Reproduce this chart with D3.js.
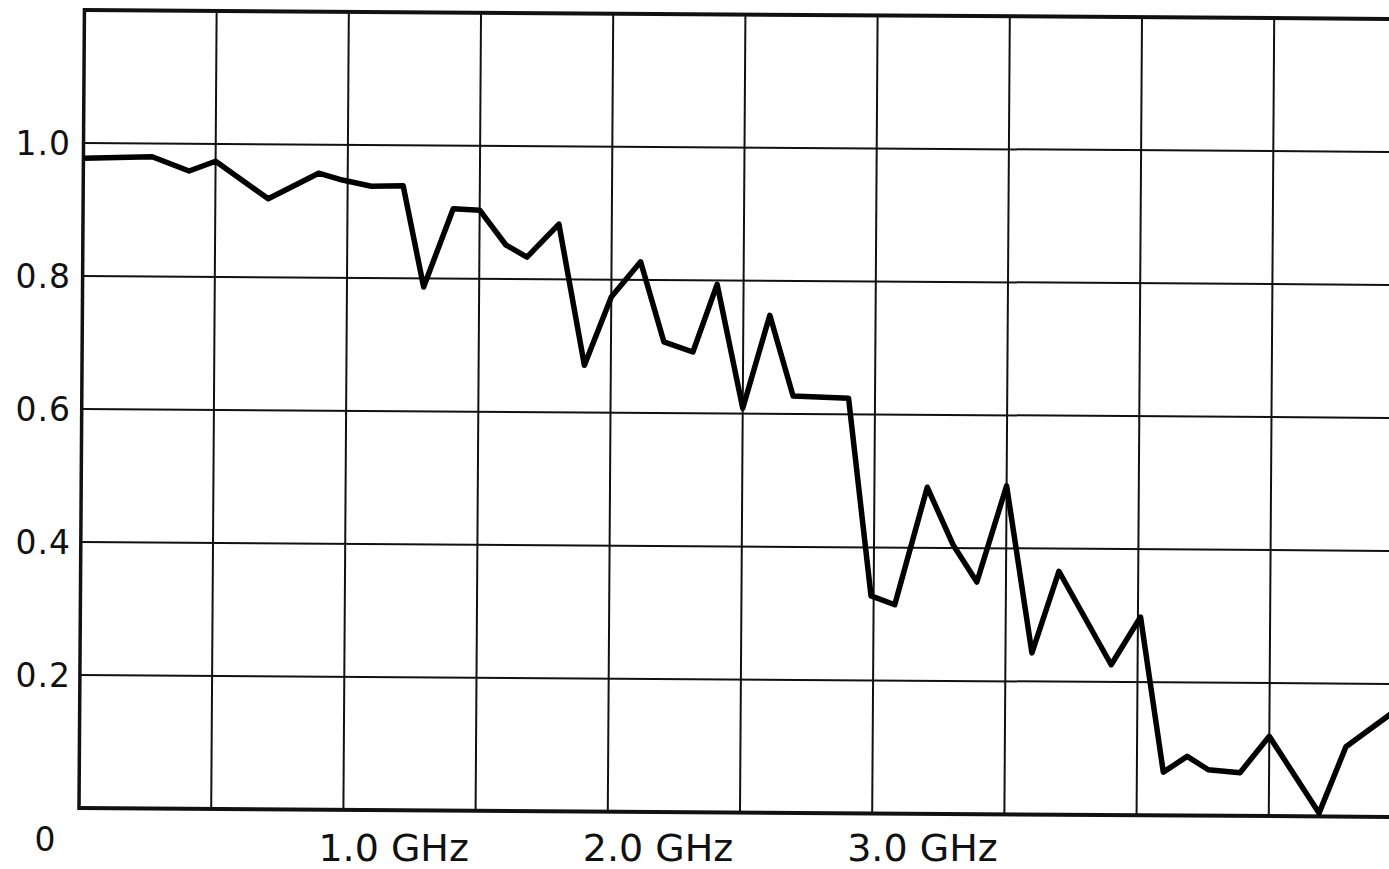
<!DOCTYPE html>
<html>
<head>
<meta charset="utf-8">
<script src="https://cdn.jsdelivr.net/npm/d3@7"></script>
<style>
  body { margin: 0; background: #fff; }
  text { font-family: "DejaVu Sans", sans-serif; fill: #111; }
</style>
</head>
<body>
<div id="chart"></div>
<script>
	var freq = [0, 0.26, 0.40, 0.50, 0.70, 0.89, 0.98, 1.09, 1.21, 1.29, 1.40, 1.50, 1.60, 1.68,
		1.80, 1.90, 2.00, 2.11, 2.20, 2.31, 2.40, 2.50, 2.60, 2.69, 2.90, 2.99, 3.08, 3.20,
		3.30, 3.39, 3.50, 3.60, 3.70, 3.90, 4.01, 4.10, 4.19, 4.27, 4.39, 4.50, 4.69, 4.79, 5.00];
	var value = [0.977, 0.980, 0.959, 0.974, 0.918, 0.957, 0.947, 0.938, 0.939, 0.787, 0.905, 0.903, 0.851, 0.833,
		0.883, 0.671, 0.774, 0.827, 0.707, 0.692, 0.794, 0.608, 0.748, 0.627, 0.624, 0.327, 0.314, 0.491,
		0.404, 0.349, 0.494, 0.243, 0.366, 0.226, 0.298, 0.065, 0.089, 0.069, 0.065, 0.120, 0.005, 0.105, 0.167];

	// tick labels
	var yTicks = [0.2, 0.4, 0.6, 0.8, 1.0];
	var yLabels = ["0.2", "0.4", "0.6", "0.8", "1.0"];
	var xTicks = [1, 2, 3];
	var xLabels = ["1.0 GHz", "2.0 GHz", "3.0 GHz"];

	// chart dimensions
	var width = 1389;
	var height = 869;
	var padLeft = 79, padTop = 10;
	var plotW = 1322, plotH = 798;
	var tilt = 0.39; // the scanned sheet is slightly rotated

	var x = d3.scaleLinear().domain([0, 5]).range([0, plotW]);
	var y = d3.scaleLinear().domain([0, 1.2]).range([plotH, 0]);

	var data = freq.map(function(f, i) { return { f: f, v: value[i] }; });

	var svg = d3.select('#chart')
	.append('svg')
	.attr('width', width)
	.attr('height', height);

	var g = svg.append('g')
	.attr('transform', 'translate(' + padLeft + ',' + padTop + ') rotate(' + tilt + ',0,' + plotH + ')');

	// grid
	g.selectAll('.vgrid')
	.data(x.ticks(10).filter(function(d) { return d > 0 && d < 5; }))
	.enter()
	.append('line')
	.attr('x1', function(d) { return x(d); })
	.attr('x2', function(d) { return x(d); })
	.attr('y1', 0)
	.attr('y2', plotH)
	.attr('stroke', '#111')
	.attr('stroke-width', 2);

	g.selectAll('.hgrid')
	.data(y.ticks(6).filter(function(d) { return d > 0 && d < 1.2; }))
	.enter()
	.append('line')
	.attr('x1', 0)
	.attr('x2', plotW)
	.attr('y1', function(d) { return y(d); })
	.attr('y2', function(d) { return y(d); })
	.attr('stroke', '#111')
	.attr('stroke-width', 2);

	// frame
	g.append('line').attr('x1', 0).attr('x2', plotW).attr('y1', 0).attr('y2', 0)
	.attr('stroke', '#111').attr('stroke-width', 4);
	g.append('line').attr('x1', 0).attr('x2', plotW).attr('y1', plotH).attr('y2', plotH)
	.attr('stroke', '#111').attr('stroke-width', 4);
	g.append('line').attr('x1', 0).attr('x2', 0).attr('y1', -2).attr('y2', plotH + 2)
	.attr('stroke', '#111').attr('stroke-width', 3.5);
	g.append('line').attr('x1', plotW).attr('x2', plotW).attr('y1', 0).attr('y2', plotH)
	.attr('stroke', '#111').attr('stroke-width', 3);

	// the curve
	var line = d3.line()
	.x(function(d) { return x(d.f); })
	.y(function(d) { return y(d.v); });

	g.append('path')
	.datum(data)
	.attr('d', line)
	.attr('fill', 'none')
	.attr('stroke', '#000')
	.attr('stroke-width', 5.5)
	.attr('stroke-linejoin', 'round');

	// y labels
	svg.selectAll('.ylab')
	.data(yTicks)
	.enter()
	.append('text')
	.attr('x', 71)
	.attr('y', function(d) { return padTop + y(d); })
	.attr('dy', '0.36em')
	.attr('text-anchor', 'end')
	.style('font-size', '33px')
	.style('letter-spacing', '1px')
	.text(function(d, i) { return yLabels[i]; });

	// origin label
	svg.append('text')
	.attr('x', 45)
	.attr('y', 851)
	.attr('text-anchor', 'middle')
	.style('font-size', '33px')
	.text('0');

	// x labels
	svg.selectAll('.xlab')
	.data(xTicks)
	.enter()
	.append('text')
	.attr('x', function(d) { return padLeft + x(d) - 25; })
	.attr('y', 861)
	.style('font-size', '38px')
	.text(function(d, i) { return xLabels[i]; });
</script>
</body>
</html>
